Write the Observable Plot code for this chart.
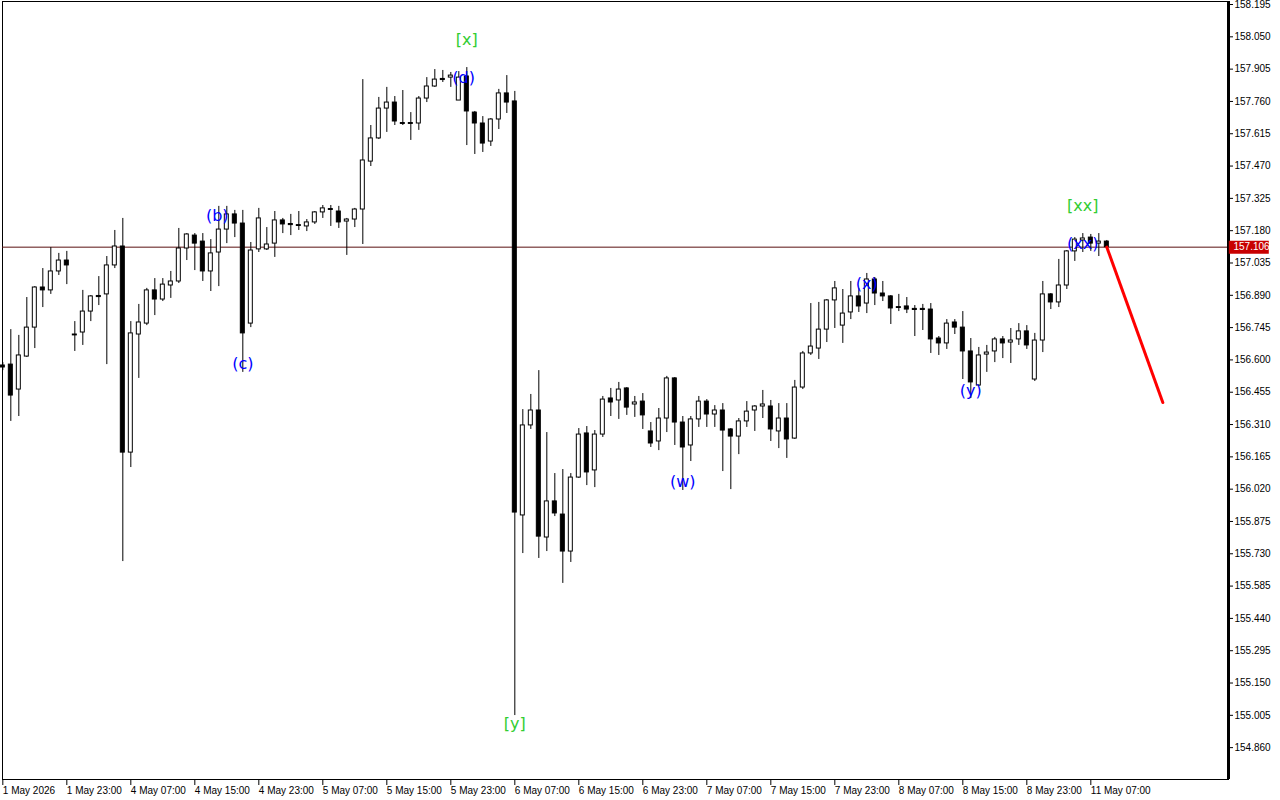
<!DOCTYPE html>
<html><head><meta charset="utf-8">
<script src="https://cdn.jsdelivr.net/npm/d3@7"></script>
<script src="https://cdn.jsdelivr.net/npm/@observablehq/plot@0.6"></script>
<style>body{margin:0;background:#fff;} #chart svg{display:block}</style>
</head><body><div id="chart"></div>
<script>
const opens = [
156.575,156.579,156.467,156.615,156.745,156.925,156.912,156.997,157.046,156.714,
156.723,156.817,156.887,156.894,157.024,157.109,156.184,156.714,156.763,156.912,
156.871,156.934,156.952,157.100,157.158,157.131,156.997,157.082,157.185,157.253,
157.212,156.763,157.096,157.096,157.122,157.226,157.210,157.205,157.199,157.217,
157.262,157.277,157.266,157.221,157.230,157.275,157.490,157.594,157.728,157.755,
157.663,157.663,157.661,157.773,157.827,157.861,157.867,157.764,157.872,157.710,
157.661,157.580,157.679,157.796,157.760,155.902,156.306,156.373,155.803,155.965,
155.906,155.740,156.072,156.270,156.104,156.265,156.427,156.418,156.472,156.400,
156.413,156.279,156.234,156.337,156.517,156.319,156.216,156.333,156.413,156.355,
156.373,156.288,156.256,156.324,156.373,156.391,156.391,156.279,156.337,156.247,
156.476,156.629,156.651,156.736,156.867,156.754,156.813,156.885,156.853,156.961,
156.898,156.885,156.837,156.840,156.829,156.829,156.826,156.696,156.674,156.768,
156.745,156.638,156.485,156.624,156.638,156.692,156.678,156.692,156.728,156.512,
156.687,156.894,156.858,156.934,157.087,157.136,157.149,157.122,157.131];
const highs = [
156.588,156.736,156.710,156.880,156.929,157.010,157.104,157.078,157.087,156.772,
156.912,156.889,156.974,157.064,157.181,157.235,156.772,156.849,156.921,156.965,
156.965,156.997,157.190,157.167,157.167,157.167,157.140,157.289,157.289,157.271,
157.271,157.127,157.280,157.194,157.266,157.235,157.253,157.266,157.230,157.266,
157.293,157.293,157.289,157.235,157.280,157.858,157.652,157.778,157.823,157.782,
157.809,157.710,157.782,157.867,157.903,157.899,157.890,157.894,157.912,157.715,
157.692,157.683,157.814,157.876,157.805,156.377,156.445,156.552,156.274,156.090,
156.108,156.090,156.292,156.301,156.283,156.436,156.472,156.499,156.476,156.436,
156.449,156.319,156.382,156.526,156.521,156.346,156.346,156.436,156.422,156.395,
156.404,156.292,156.337,156.413,156.395,156.463,156.418,156.404,156.404,156.508,
156.638,156.853,156.858,156.871,156.952,156.916,156.952,156.921,156.988,156.970,
156.952,156.889,156.894,156.880,156.844,156.849,156.853,156.705,156.781,156.781,
156.817,156.696,156.656,156.665,156.701,156.705,156.741,156.763,156.754,156.719,
156.952,156.898,157.051,157.091,157.149,157.167,157.163,157.167,157.136];
const lows = [
156.552,156.324,156.346,156.611,156.651,156.835,156.894,156.979,156.938,156.638,
156.665,156.772,156.844,156.579,157.010,155.695,156.117,156.517,156.754,156.799,
156.862,156.876,156.943,157.046,157.001,156.952,156.907,156.929,157.122,157.149,
156.544,156.745,157.082,157.091,157.060,157.167,157.158,157.181,157.176,157.208,
157.235,157.199,157.190,157.069,157.194,157.118,157.468,157.589,157.621,157.652,
157.652,157.585,157.630,157.755,157.823,157.845,157.823,157.764,157.562,157.522,
157.531,157.558,157.634,157.706,155.004,155.731,156.288,155.709,155.740,155.897,
155.597,155.691,156.068,156.036,156.027,156.252,156.346,156.333,156.351,156.342,
156.288,156.207,156.193,156.274,156.216,156.014,156.144,156.297,156.297,156.297,
156.099,156.018,156.175,156.297,156.279,156.337,156.234,156.202,156.158,156.243,
156.467,156.620,156.602,156.678,156.741,156.674,156.781,156.813,156.808,156.844,
156.862,156.759,156.817,156.808,156.705,156.732,156.629,156.620,156.647,156.714,
156.512,156.427,156.481,156.544,156.588,156.606,156.584,156.665,156.647,156.503,
156.633,156.826,156.835,156.916,157.042,157.082,157.087,157.064,157.106];
const closes = [
156.566,156.440,156.620,156.745,156.925,156.912,156.997,157.046,157.024,156.710,
156.817,156.885,156.882,157.024,157.109,156.184,156.719,156.768,156.912,156.871,
156.938,156.952,157.100,157.163,157.122,156.997,157.078,157.185,157.253,157.212,
156.719,157.091,157.235,157.118,157.226,157.208,157.205,157.201,157.217,157.262,
157.280,157.273,157.217,157.230,157.275,157.495,157.594,157.728,157.755,157.670,
157.659,157.659,157.773,157.827,157.858,157.856,157.876,157.867,157.715,157.661,
157.571,157.679,157.796,157.755,155.915,156.306,156.373,155.807,155.965,155.911,
155.740,156.072,156.265,156.095,156.265,156.422,156.409,156.467,156.386,156.409,
156.351,156.225,156.337,156.517,156.319,156.207,156.333,156.413,156.355,156.373,
156.283,156.256,156.324,156.368,156.391,156.400,156.288,156.337,156.243,156.476,
156.629,156.660,156.736,156.867,156.921,156.808,156.885,156.840,156.961,156.898,
156.885,156.831,156.833,156.826,156.824,156.824,156.692,156.674,156.763,156.745,
156.638,156.499,156.620,156.633,156.692,156.674,156.687,156.728,156.665,156.687,
156.894,156.858,156.934,157.087,157.140,157.145,157.122,157.131,157.106];

const xTickBars = [0,8,16,24,32,40,48,56,64,72,80,88,96,104,112,120,128,136];
const xTickLabels = ["1 May 2026","1 May 23:00","4 May 07:00","4 May 15:00","4 May 23:00","5 May 07:00",
  "5 May 15:00","5 May 23:00","6 May 07:00","6 May 15:00","6 May 23:00","7 May 07:00","7 May 15:00",
  "7 May 23:00","8 May 07:00","8 May 15:00","8 May 23:00","11 May 07:00"];
const yTicks = [158.195,158.050,157.905,157.760,157.615,157.470,157.325,157.180,157.035,156.890,156.745,
  156.600,156.455,156.310,156.165,156.020,155.875,155.730,155.585,155.440,155.295,155.150,155.005,154.860];

const waveBars   = [57.6, 58, 26.8, 30, 64, 85, 108, 121, 135, 135];
const wavePrices = [157.867, 158.038, 157.248, 156.584, 154.968, 156.054, 156.943, 156.463, 157.293, 157.122];
const waveTexts  = ["(d)", "[x]", "(b)", "(c)", "[y]", "(w)", "(x)", "(y)", "[xx]", "(xx)"];
const waveColors = ["#0000ff","#32cd32","#0000ff","#0000ff","#32cd32","#0000ff","#0000ff","#0000ff","#32cd32","#0000ff"];

const projBars = [138, 145];
const projPrices = [157.106, 156.409];

const bars = opens.map((o, i) => ({i, open: o, high: highs[i], low: lows[i], close: closes[i]}));
const labelMap = new Map(xTickBars.map((b, k) => [b, xTickLabels[k]]));
const waves = waveTexts.map((t, k) => ({bar: waveBars[k], price: wavePrices[k], text: t, color: waveColors[k]}));
const proj = projBars.map((b, k) => ({bar: b, price: projPrices[k]}));
const xDomain = [-0.04, 153.21];
const lastClose = closes[closes.length - 1];

const chart = Plot.plot({
  width: 1280, height: 800,
  marginLeft: 2, marginRight: 52, marginTop: 1, marginBottom: 21,
  x: {domain: xDomain},
  y: {domain: [154.717, 158.2085]},
  style: {fontFamily: "'Liberation Sans', Arial, sans-serif", fontSize: "10px", background: "white", color: "black"},
  marks: [
    Plot.frame({stroke: "black"}),
    Plot.ruleY([lastClose], {stroke: "#5a1010", strokeWidth: 1}),
    Plot.ruleX(bars, {x: "i", y1: "low", y2: "high", stroke: "black", strokeWidth: 1}),
    Plot.rect(bars, {x1: d => d.i - 0.25, x2: d => d.i + 0.25, y1: "open", y2: "close",
      fill: d => d.close > d.open ? "white" : "black", stroke: "black", strokeWidth: 1}),
    Plot.line(proj, {x: "bar", y: "price", stroke: "#ff0000", strokeWidth: 3}),
    Plot.text(waves, {x: "bar", y: "price", text: "text", fill: "color", fontSize: 16,
      fontFamily: "'DejaVu Sans', sans-serif"}),
    Plot.axisX({ticks: xTickBars, tickFormat: d => labelMap.get(d), textAnchor: "start",
      tickSize: 6, tickPadding: 1, label: null}),
    Plot.axisY({anchor: "right", ticks: yTicks, tickFormat: d => d.toFixed(3), tickSize: 4,
      tickPadding: 2, label: null}),
    Plot.ruleX([xDomain[1]], {stroke: "black", strokeWidth: 3}),
    Plot.ruleY([lastClose], {x1: xDomain[1] + 0.1, x2: xDomain[1] + 5.1, stroke: "#c80000", strokeWidth: 13}),
    Plot.text([lastClose], {x: xDomain[1], y: d => d, text: d => d.toFixed(3), textAnchor: "start",
      dx: 5, fill: "white"})
  ]
});
document.getElementById("chart").appendChild(chart);
</script>
</body></html>
